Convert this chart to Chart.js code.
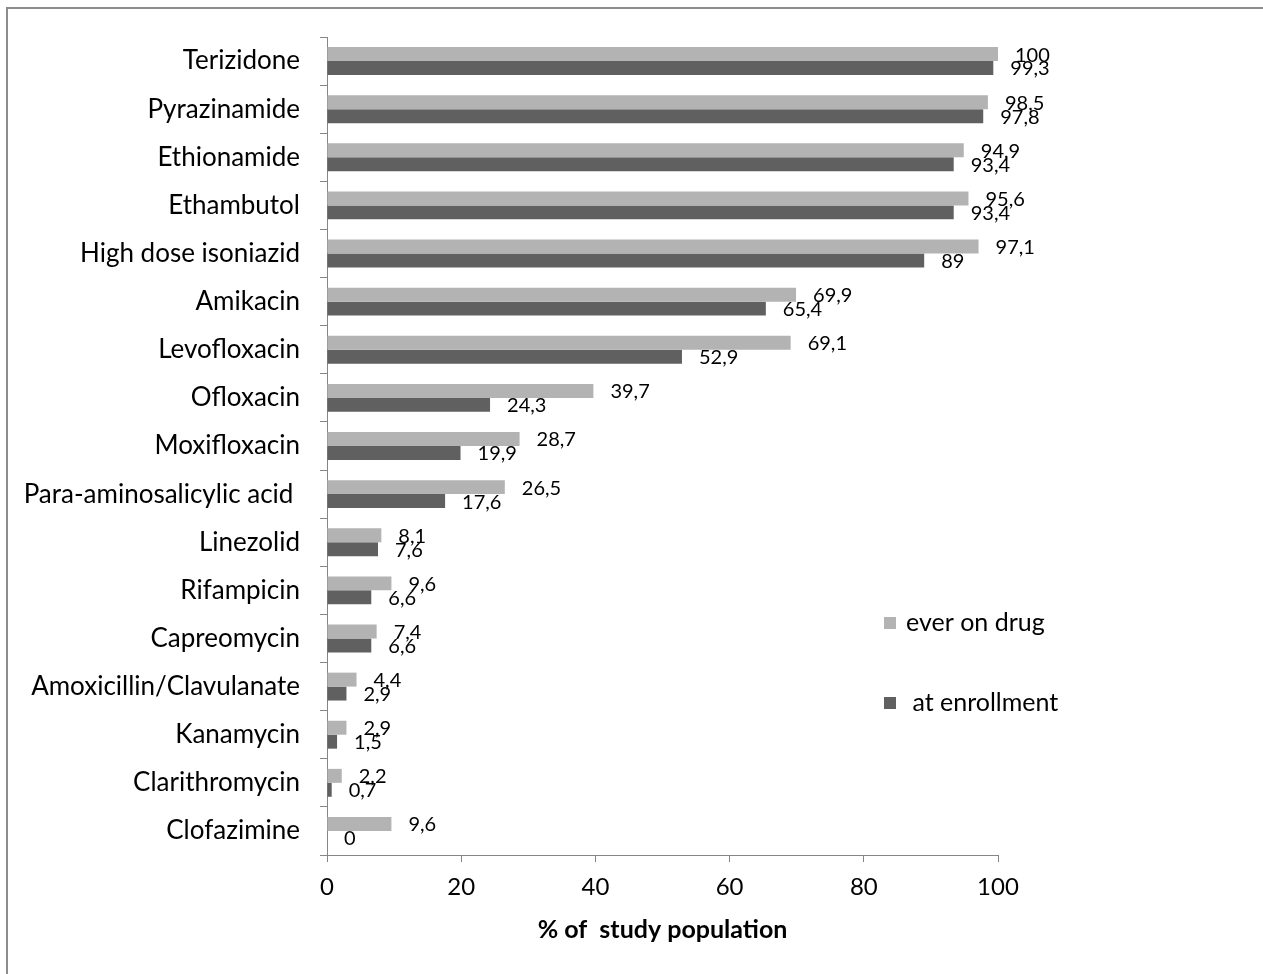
<!DOCTYPE html>
<html>
<head>
<meta charset="utf-8">
<script src="https://cdn.jsdelivr.net/npm/chart.js@4/dist/chart.umd.min.js"></script>
<style>
  html, body { margin: 0; padding: 0; background: #ffffff; }
  #wrap { width: 1263px; height: 974px; position: relative; }
</style>
</head>
<body>
<div id="wrap"><canvas id="drugChart" width="1263" height="974"></canvas></div>
<script>
// Anti-TB drugs, share of study population
const drugs = [
  'Terizidone', 'Pyrazinamide', 'Ethionamide', 'Ethambutol', 'High dose isoniazid',
  'Amikacin', 'Levofloxacin', 'Ofloxacin', 'Moxifloxacin', 'Para-aminosalicylic acid ',
  'Linezolid', 'Rifampicin', 'Capreomycin', 'Amoxicillin/Clavulanate', 'Kanamycin',
  'Clarithromycin', 'Clofazimine'
];
const everOnDrug = [100, 98.5, 94.9, 95.6, 97.1, 69.9, 69.1, 39.7, 28.7, 26.5, 8.1, 9.6, 7.4, 4.4, 2.9, 2.2, 9.6];
const atEnrollment = [99.3, 97.8, 93.4, 93.4, 89, 65.4, 52.9, 24.3, 19.9, 17.6, 7.6, 6.6, 6.6, 2.9, 1.5, 0.7, 0];
const xTicks = [0, 20, 40, 60, 80, 100];
const seriesNames = ['ever on drug', ' at enrollment'];

const FONT = 'Lato, "Open Sans", sans-serif';
const AXIS_GREY = '#868686';

// Outer frame (left and top edges visible)
const framePlugin = {
  id: 'frame',
  beforeDraw(chart) {
    const ctx = chart.ctx;
    ctx.save();
    ctx.fillStyle = '#ffffff';
    ctx.fillRect(0, 0, chart.width, chart.height);
    ctx.strokeStyle = '#8c8c8c';
    ctx.lineWidth = 2;
    ctx.beginPath();
    ctx.moveTo(7, chart.height + 2);
    ctx.lineTo(7, 8);
    ctx.lineTo(chart.width + 2, 8);
    ctx.stroke();
    ctx.restore();
  }
};

// Value labels just past the end of each bar, decimal comma
const valueLabels = {
  id: 'valueLabels',
  afterDatasetsDraw(chart) {
    const ctx = chart.ctx;
    ctx.save();
    ctx.font = '20px ' + FONT;
    ctx.fillStyle = '#000000';
    ctx.textAlign = 'left';
    ctx.textBaseline = 'middle';
    chart.data.datasets.forEach((ds, di) => {
      const meta = chart.getDatasetMeta(di);
      meta.data.forEach((bar, i) => {
        const txt = String(ds.data[i]).replace('.', ',');
        ctx.fillText(txt, bar.x + 17, bar.y + 1);
      });
    });
    ctx.restore();
  }
};

// Legend inside the plot, lower right
const innerLegend = {
  id: 'innerLegend',
  afterDraw(chart) {
    const ctx = chart.ctx;
    const rows = [
      { y: 623, textX: 906 },
      { y: 703, textX: 906 }
    ];
    ctx.save();
    ctx.font = '25px ' + FONT;
    ctx.textBaseline = 'middle';
    ctx.textAlign = 'left';
    chart.data.datasets.forEach((ds, di) => {
      const r = rows[di];
      ctx.fillStyle = ds.backgroundColor;
      ctx.fillRect(884, r.y - 6, 12, 12);
      ctx.fillStyle = '#000000';
      ctx.fillText(ds.label, r.textX, r.y);
    });
    ctx.restore();
  }
};

new Chart(document.getElementById('drugChart'), {
  type: 'bar',
  data: {
    labels: drugs,
    datasets: [
      { label: seriesNames[0], data: everOnDrug, backgroundColor: '#b3b3b3', borderWidth: 0 },
      { label: seriesNames[1], data: atEnrollment, backgroundColor: '#606060', borderWidth: 0 }
    ]
  },
  options: {
    indexAxis: 'y',
    responsive: false,
    animation: false,
    devicePixelRatio: 1,
    categoryPercentage: 0.58,
    barPercentage: 1.0,
    layout: { padding: { left: 0, right: 265, top: 37, bottom: 0 } },
    plugins: {
      legend: { display: false },
      tooltip: { enabled: false }
    },
    scales: {
      x: {
        type: 'linear',
        min: 0,
        max: 100,
        afterBuildTicks(scale) { scale.ticks = xTicks.map(v => ({ value: v })); },
        afterFit(scale) { scale.height = 119; },
        grid: { drawOnChartArea: false, drawTicks: true, tickLength: 7, color: AXIS_GREY, lineWidth: 1 },
        border: { display: true, color: AXIS_GREY, width: 1 },
        ticks: { color: '#000000', font: { family: FONT, size: 24 }, padding: 11, maxRotation: 0 },
        title: {
          display: true,
          text: '% of  study population',
          color: '#000000',
          font: { family: FONT, size: 25, weight: 'bold' },
          padding: { top: 0, bottom: 29 }
        }
      },
      y: {
        afterFit(scale) { scale.width = 327; },
        grid: { drawOnChartArea: false, drawTicks: true, tickLength: 7, color: AXIS_GREY, lineWidth: 1, offset: true },
        border: { display: true, color: AXIS_GREY, width: 1 },
        ticks: { color: '#000000', font: { family: FONT, size: 26 }, padding: 20, autoSkip: false }
      }
    }
  },
  plugins: [framePlugin, valueLabels, innerLegend]
});
</script>
</body>
</html>
